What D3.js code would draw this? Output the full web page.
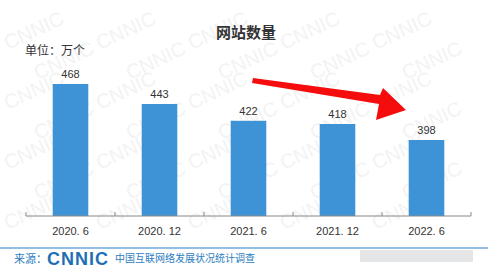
<!DOCTYPE html>
<html>
<head>
<meta charset="utf-8">
<script src="https://cdn.jsdelivr.net/npm/d3@7"></script>
<style>
  body { margin: 0; background: #fff; }
  svg { display: block; }
</style>
</head>
<body>
<div id="chart"></div>
<script>
const categories = ["2020. 6", "2020. 12", "2021. 6", "2021. 12", "2022. 6"];
const values = [468, 443, 422, 418, 398];

const width = 498;
const height = 277;
const svg = d3.select("#chart")
              .append("svg")
              .attr("width", width)
              .attr("height", height);

// faint watermark, only where it fits whole
const wm = svg.append("g").attr("fill", "#f3f3f3")
  .attr("font-family", "Liberation Sans, Arial, sans-serif")
  .attr("font-size", 20);
for (let row = 0; row < 7; row++) {
  for (let col = 0; col < 7; col++) {
    const wx = 8 + col * 92 + (row % 2) * 30;
    const wy = 50 + row * 30;
    if (wx + 68 > width || wy > 240) continue;
    wm.append("text").attr("transform", `translate(${wx},${wy}) rotate(-25)`).text("CNNIC");
  }
}

const x = d3.scaleBand()
  .domain(categories)
  .range([26, 471])
  .paddingInner(0.6)
  .paddingOuter(0.3);

const y = d3.scaleLinear()
  .domain([303, 468])
  .range([216, 84]);

svg.append("text")
   .attr("x", 246).attr("y", 38)
   .attr("text-anchor", "middle")
   .attr("font-family", "Noto Sans CJK SC")
   .attr("font-weight", "bold")
   .attr("font-size", 15)
   .attr("fill", "#333")
   .text("网站数量");

svg.append("text")
   .attr("x", 25).attr("y", 55)
   .attr("font-family", "Noto Sans CJK SC")
   .attr("font-size", 12)
   .attr("fill", "#333")
   .text("单位：万个");

svg.append("g")
   .selectAll("rect")
   .data(values)
   .enter()
   .append("rect")
   .attr("x", (d, i) => x(categories[i]))
   .attr("width", x.bandwidth())
   .attr("y", d => y(d))
   .attr("height", d => 216 - y(d))
   .attr("fill", "#3d93d6");

svg.append("g")
   .selectAll("text")
   .data(values)
   .enter()
   .append("text")
   .attr("x", (d, i) => x(categories[i]) + x.bandwidth() / 2)
   .attr("y", d => y(d) - 6)
   .attr("text-anchor", "middle")
   .attr("font-family", "Liberation Sans, Arial, sans-serif")
   .attr("font-size", 11)
   .attr("fill", "#333")
   .text(d => d);

// category axis with ticks between the bands
const axis = svg.append("g");
axis.append("line")
    .attr("x1", 26).attr("x2", 471)
    .attr("y1", 216).attr("y2", 216)
    .attr("stroke", "#888");
d3.range(categories.length + 1).forEach(i => {
  const tx = 26 + i * x.step();
  axis.append("line")
      .attr("x1", tx).attr("x2", tx)
      .attr("y1", 216).attr("y2", 212)
      .attr("stroke", "#888");
});
axis.selectAll("text.cat")
    .data(categories)
    .enter()
    .append("text")
    .attr("class", "cat")
    .attr("x", d => x(d) + x.bandwidth() / 2)
    .attr("y", 235)
    .attr("text-anchor", "middle")
    .attr("font-family", "Liberation Sans, Arial, sans-serif")
    .attr("font-size", 11)
    .attr("fill", "#333")
    .text(d => d);

// red arrow
svg.append("path")
   .attr("d", "M253,78 L380,95 L383,88 L406,110 L376,120 L379,104 L252,83 Z")
   .attr("fill", "#f50d0d");

// footer
svg.append("line")
   .attr("x1", 0).attr("x2", 488)
   .attr("y1", 248).attr("y2", 248)
   .attr("stroke", "#6fa8dc").attr("stroke-width", 1.5);

svg.append("text")
   .attr("x", 14).attr("y", 263)
   .attr("font-family", "Noto Sans CJK SC")
   .attr("font-size", 11)
   .attr("fill", "#2c7cc1")
   .text("来源：");

svg.append("text")
   .attr("x", 47).attr("y", 265)
   .attr("font-family", "Liberation Sans, Arial, sans-serif")
   .attr("font-weight", "bold")
   .attr("font-size", 18)
   .attr("textLength", 61)
   .attr("fill", "#1f6fb5")
   .text("CNNIC");

svg.append("text")
   .attr("x", 115).attr("y", 262)
   .attr("font-family", "Noto Sans CJK SC")
   .attr("font-size", 10)
   .attr("fill", "#2c7cc1")
   .text("中国互联网络发展状况统计调查");

svg.append("rect")
   .attr("x", 360).attr("y", 250)
   .attr("width", 113).attr("height", 12)
   .attr("fill", "#e4e6e8");
</script>
</body>
</html>
